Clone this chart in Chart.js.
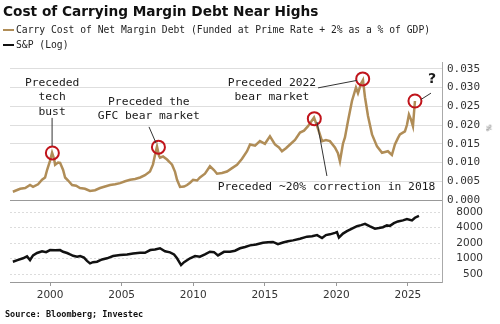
<!DOCTYPE html>
<html>
<head>
<meta charset="utf-8">
<script src="https://cdn.jsdelivr.net/npm/chart.js@4/dist/chart.umd.min.js"></script>
<style>
  body { margin: 0; background: #fff; }
  #wrap { position: relative; width: 500px; height: 324px; overflow: hidden; }
  #chart { position: absolute; left: 0; top: 0; }
  .title { position: absolute; left: 3px; top: 3px; font: bold 13.7px "DejaVu Sans"; color: #111; white-space: nowrap; }
  .leg { position: absolute; left: 3px; font: 9.7px "DejaVu Sans Mono"; color: #222; white-space: nowrap; }
  .leg i { display: inline-block; width: 11px; height: 2.5px; vertical-align: middle; margin-right: 2px; }
  .src { position: absolute; left: 5px; top: 309px; font: bold 8.5px "DejaVu Sans Mono"; color: #111; white-space: nowrap; }
  .pct { position: absolute; left: 485px; top: 124px; font: 7px "DejaVu Sans"; color: #555; transform: rotate(90deg); }
</style>
</head>
<body>
<div id="wrap">
  <canvas id="chart" width="500" height="324"></canvas>
  <div class="title">Cost of Carrying Margin Debt Near Highs</div>
  <div class="leg" style="top:24px"><i style="background:#b08d57"></i>Carry Cost of Net Margin Debt (Funded at Prime Rate + 2% as a % of GDP)</div>
  <div class="leg" style="top:39px"><i style="background:#111"></i>S&amp;P (Log)</div>
  <div class="pct">%</div>
  <div class="src">Source: Bloomberg; Investec</div>
</div>
<script>
// carry cost of net margin debt, % of GDP (fraction)
const carryYears = [1997.40, 1997.91, 1998.26, 1998.60, 1998.81, 1999.16, 1999.44, 1999.65, 1999.79, 2000.00,
  2000.14, 2000.28, 2000.35, 2000.56, 2000.70, 2000.91, 2001.05, 2001.26, 2001.54, 2001.82,
  2002.09, 2002.44, 2002.79, 2003.14, 2003.49, 2003.84, 2004.19, 2004.54, 2004.89, 2005.24,
  2005.59, 2005.94, 2006.29, 2006.63, 2006.98, 2007.19, 2007.33, 2007.47, 2007.61, 2007.68,
  2007.89, 2008.17, 2008.38, 2008.52, 2008.73, 2008.87, 2009.08, 2009.36, 2009.57, 2009.78,
  2009.99, 2010.27, 2010.47, 2010.82, 2011.17, 2011.45, 2011.66, 2012.01, 2012.36, 2012.71,
  2013.06, 2013.41, 2013.76, 2013.97, 2014.32, 2014.66, 2015.01, 2015.36, 2015.71, 2015.99,
  2016.20, 2016.48, 2016.76, 2017.11, 2017.46, 2017.74, 2018.02, 2018.44, 2018.58, 2018.72,
  2019.00, 2019.27, 2019.55, 2019.90, 2020.11, 2020.25, 2020.46, 2020.60, 2020.81, 2021.09,
  2021.37, 2021.51, 2021.72, 2021.86, 2022.00, 2022.21, 2022.49, 2022.84, 2023.19, 2023.40,
  2023.60, 2023.88, 2024.09, 2024.30, 2024.44, 2024.79, 2024.93, 2025.07, 2025.21, 2025.35, 2025.49];
const carryValues = [0.0022, 0.0030, 0.0032, 0.0040, 0.0035, 0.0042, 0.0054, 0.0060, 0.0080, 0.0105,
  0.0126, 0.0110, 0.0094, 0.0100, 0.0099, 0.0080, 0.0060, 0.0052, 0.0040, 0.0038,
  0.0032, 0.0030, 0.0024, 0.0026, 0.0032, 0.0036, 0.0040, 0.0042, 0.0045, 0.0050,
  0.0054, 0.0056, 0.0060, 0.0066, 0.0076, 0.0095, 0.0120, 0.0143, 0.0118, 0.0113,
  0.0116, 0.0108, 0.0100, 0.0094, 0.0075, 0.0054, 0.0035, 0.0036, 0.0040, 0.0046,
  0.0054, 0.0052, 0.0060, 0.0070, 0.0090, 0.0080, 0.0070, 0.0072, 0.0076, 0.0085,
  0.0094, 0.0110, 0.0130, 0.0148, 0.0145, 0.0157, 0.0150, 0.0170, 0.0148, 0.0140,
  0.0130, 0.0138, 0.0148, 0.0160, 0.0180, 0.0185, 0.0197, 0.0220, 0.0205, 0.0190,
  0.0157, 0.0160, 0.0157, 0.0140, 0.0125, 0.0103, 0.0150, 0.0167, 0.0210, 0.0264,
  0.0300, 0.0285, 0.0310, 0.0320, 0.0274, 0.0224, 0.0175, 0.0143, 0.0126, 0.0128,
  0.0130, 0.0120, 0.0148, 0.0165, 0.0175, 0.0183, 0.0200, 0.0228, 0.0215, 0.0197, 0.0264];

// S&P 500 index level
const spxYears = [1997.40, 1997.77, 1998.11, 1998.39, 1998.60, 1998.81, 1999.09, 1999.44, 1999.72, 2000.00,
  2000.35, 2000.70, 2000.91, 2001.19, 2001.40, 2001.61, 2001.89, 2002.10, 2002.37, 2002.58,
  2002.79, 2003.00, 2003.28, 2003.63, 2003.98, 2004.40, 2004.89, 2005.38, 2005.80, 2006.28,
  2006.63, 2007.00, 2007.33, 2007.68, 2008.03, 2008.38, 2008.66, 2008.87, 2009.15, 2009.36,
  2009.78, 2010.13, 2010.47, 2010.82, 2011.17, 2011.45, 2011.73, 2012.15, 2012.57, 2012.92,
  2013.27, 2013.62, 2013.97, 2014.39, 2014.87, 2015.22, 2015.57, 2015.92, 2016.27, 2016.62,
  2016.97, 2017.46, 2017.95, 2018.30, 2018.65, 2019.00, 2019.27, 2019.55, 2019.90, 2020.04,
  2020.18, 2020.46, 2020.74, 2021.09, 2021.44, 2021.72, 2022.00, 2022.35, 2022.70, 2022.97,
  2023.25, 2023.53, 2023.74, 2024.02, 2024.30, 2024.65, 2024.93, 2025.28, 2025.49, 2025.77];
const spxValues = [866, 940, 1010, 1100, 935, 1150, 1280, 1380, 1330, 1460,
  1440, 1460, 1350, 1280, 1200, 1130, 1085, 1120, 1040, 900,
  805, 850, 866, 960, 1010, 1120, 1170, 1200, 1250, 1300,
  1290, 1460, 1500, 1580, 1380, 1320, 1200, 1010, 747, 850,
  1010, 1120, 1085, 1200, 1355, 1330, 1150, 1350, 1355, 1420,
  1580, 1680, 1800, 1880, 2030, 2080, 2100, 1900, 2050, 2170,
  2250, 2420, 2660, 2700, 2850, 2500, 2850, 2950, 3150, 3250,
  2550, 3050, 3400, 3800, 4250, 4450, 4700, 4200, 3800, 3900,
  4050, 4400, 4300, 4850, 5250, 5500, 5850, 5500, 6200, 6750];

// circled peaks
const peakYears = [2000.16, 2007.57, 2018.46, 2021.84, 2025.49];
const peakValues = [0.01255, 0.0141, 0.0217, 0.0323, 0.0264];

const xTicks = [2000, 2005, 2010, 2015, 2020, 2025];
const carryTicks = [0, 0.005, 0.010, 0.015, 0.020, 0.025, 0.030, 0.035];
const spxTicks = [500, 1000, 2000, 4000, 8000];

// callouts: text anchor and connector, in data units
const notes = [
  { lines: ['Preceded', 'tech', 'bust'], x: 2000.14, y: 0.0312, align: 'center', from: [2000.14, 0.0219], to: [2000.14, 0.0144] },
  { lines: ['Preceded the', 'GFC bear market'], x: 2006.9, y: 0.0262, align: 'center', from: [2006.91, 0.0195], to: [2007.40, 0.0152] },
  { lines: ['Preceded 2022', 'bear market'], x: 2015.5, y: 0.0313, align: 'center', from: [2018.72, 0.0299], to: [2021.44, 0.0319] },
  { lines: ['Preceded ~20% correction in 2018'], x: 2019.31, y: 0.0034, align: 'center', from: [2018.65, 0.0208], to: [2019.34, 0.0064] },
  { lines: ['?'], x: 2026.68, y: 0.0323, align: 'center', bold: true, from: [2026.61, 0.0285], to: [2025.91, 0.0268] }
];

const toPoints = (xs, ys) => xs.map((x, i) => ({ x: x, y: ys[i] }));

const notesPlugin = {
  id: 'notes',
  afterDatasetsDraw(chart) {
    const ctx = chart.ctx;
    const sx = chart.scales.x;
    const sy = chart.scales.yc;
    ctx.save();
    notes.forEach(n => {
      ctx.strokeStyle = '#333';
      ctx.lineWidth = 1;
      ctx.beginPath();
      ctx.moveTo(sx.getPixelForValue(n.from[0]), sy.getPixelForValue(n.from[1]));
      ctx.lineTo(sx.getPixelForValue(n.to[0]), sy.getPixelForValue(n.to[1]));
      ctx.stroke();
      ctx.fillStyle = '#1a1a1a';
      ctx.font = n.bold ? 'bold 14px "DejaVu Sans"' : '11.3px "DejaVu Sans Mono"';
      ctx.textAlign = n.align;
      ctx.textBaseline = 'middle';
      const px = sx.getPixelForValue(n.x);
      const py = sy.getPixelForValue(n.y);
      n.lines.forEach((t, i) => ctx.fillText(t, px, py + i * 14.5));
    });
    ctx.restore();
  }
};

new Chart(document.getElementById('chart'), {
  type: 'line',
  data: {
    datasets: [
      {
        label: 'peaks',
        data: toPoints(peakYears, peakValues),
        yAxisID: 'yc',
        showLine: false,
        pointRadius: 6.5,
        pointBorderWidth: 2,
        pointBorderColor: '#c0141b',
        pointBackgroundColor: 'rgba(0,0,0,0)',
        order: 0
      },
      {
        label: 'Carry Cost of Net Margin Debt',
        data: toPoints(carryYears, carryValues),
        yAxisID: 'yc',
        borderColor: '#b08d57',
        borderWidth: 2.5,
        pointRadius: 0,
        tension: 0,
        order: 1
      },
      {
        label: 'S&P (Log)',
        data: toPoints(spxYears, spxValues),
        yAxisID: 'ys',
        borderColor: '#111',
        borderWidth: 2.5,
        pointRadius: 0,
        tension: 0,
        order: 2
      }
    ]
  },
  options: {
    responsive: false,
    animation: false,
    layout: { padding: { top: 62, left: 10, right: 17, bottom: 0 } },
    plugins: { legend: { display: false }, tooltip: { enabled: false } },
    scales: {
      x: {
        type: 'linear',
        min: 1997.2,
        max: 2027.38,
        afterBuildTicks: s => { s.ticks = xTicks.map(v => ({ value: v })); },
        afterFit: s => { s.height = 42; },
        ticks: { autoSkip: false, callback: v => String(v), color: '#333', font: { family: 'DejaVu Sans', size: 10.5 }, padding: 3, maxRotation: 0 },
        grid: { drawOnChartArea: false, tickLength: 4, color: '#999' },
        border: { color: '#999' }
      },
      yc: {
        type: 'linear',
        position: 'right',
        stack: 'panels',
        stackWeight: 138,
        min: 0,
        max: 0.0368,
        afterBuildTicks: s => { s.ticks = carryTicks.map(v => ({ value: v })); },
        afterFit: s => { s.width = 41; },
        ticks: { autoSkip: false, callback: v => v.toFixed(3), color: '#333', font: { family: 'DejaVu Sans Mono', size: 11 }, padding: 5 },
        grid: { drawTicks: false, color: c => c.tick && c.tick.value === 0 ? '#999' : '#dedede' },
        border: { color: '#aaa' }
      },
      ys: {
        type: 'logarithmic',
        position: 'right',
        stack: 'panels',
        stackWeight: 82,
        min: 350,
        max: 13700,
        afterBuildTicks: s => { s.ticks = spxTicks.map(v => ({ value: v })); },
        afterFit: s => { s.width = 41; },
        ticks: { autoSkip: false, callback: v => String(v), color: '#333', font: { family: 'DejaVu Sans', size: 10.5 }, padding: 5, crossAlign: 'far' },
        grid: { drawTicks: false, color: '#dcdcdc' },
        border: { color: '#aaa', dash: [2, 2] }
      }
    }
  },
  plugins: [notesPlugin]
});
</script>
</body>
</html>
